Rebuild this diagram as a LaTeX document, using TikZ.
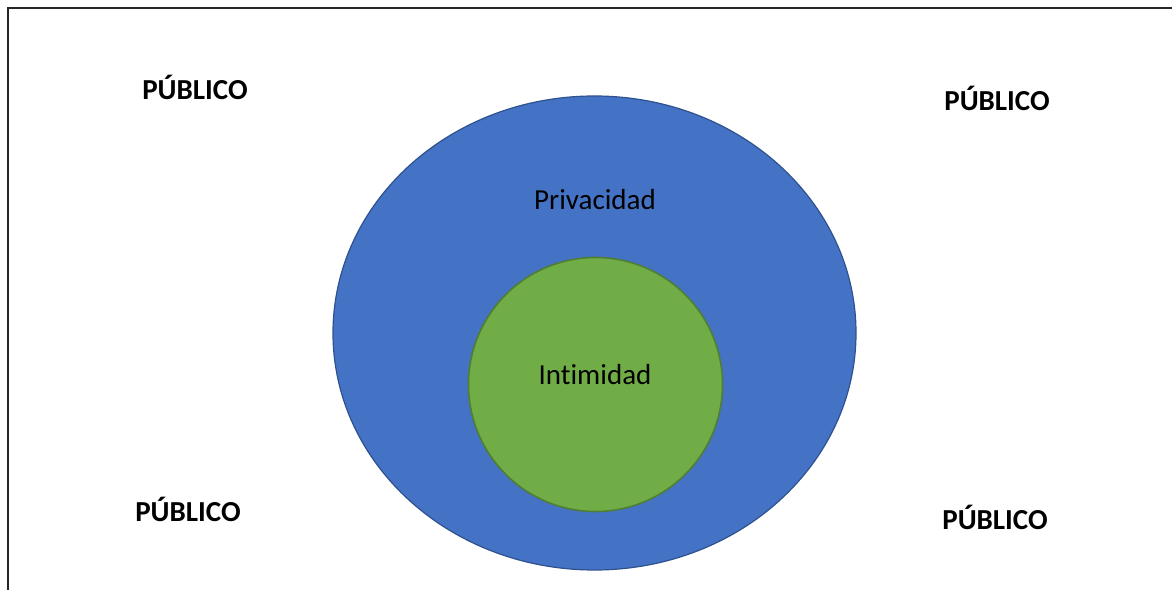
\documentclass[tikz,border=0pt]{standalone}
\usepackage{fontspec}
\setmainfont{Carlito}[Ligatures=NoCommon]
\usetikzlibrary{shapes.geometric}
\begin{document}
\begin{tikzpicture}[x=1bp,y=-1bp,
  label/.style={font=\fontsize{29bp}{32bp}\selectfont, inner sep=0pt},
  zone/.style={label, font=\fontsize{29bp}{32bp}\selectfont\bfseries},
  outerset/.style={ellipse, inner sep=0pt, minimum width=523bp, minimum height=474bp,
    fill={rgb,255:red,68;green,114;blue,196}, draw={rgb,255:red,47;green,82;blue,143}, line width=1.2bp},
  innerset/.style={circle, inner sep=0pt, minimum size=254bp,
    fill={rgb,255:red,112;green,173;blue,71}, draw={rgb,255:red,80;green,126;blue,50}, line width=1.6bp}]
\useasboundingbox (0,0) rectangle (1172,590);
% frame: top and left edges
\draw[line width=2bp, black!85] (8,590) -- (8,8.5) -- (1172,8.5);
% nested sets
\node[outerset] (priv set) at (594.5,333) {};
\node[innerset] (inti set) at (595.5,384.5) {};
\node[label] (priv) at (595,200) {Privacidad};
\node[label] (inti) at (595,375) {Intimidad};
% surrounding public sphere
\node[zone] (ptl) at (195,87) {PÚBLICO};
\node[zone] (ptr) at (997,98) {PÚBLICO};
\node[zone] (pbl) at (188,509) {PÚBLICO};
\node[zone] (pbr) at (995,517) {PÚBLICO};
\end{tikzpicture}
\end{document}
